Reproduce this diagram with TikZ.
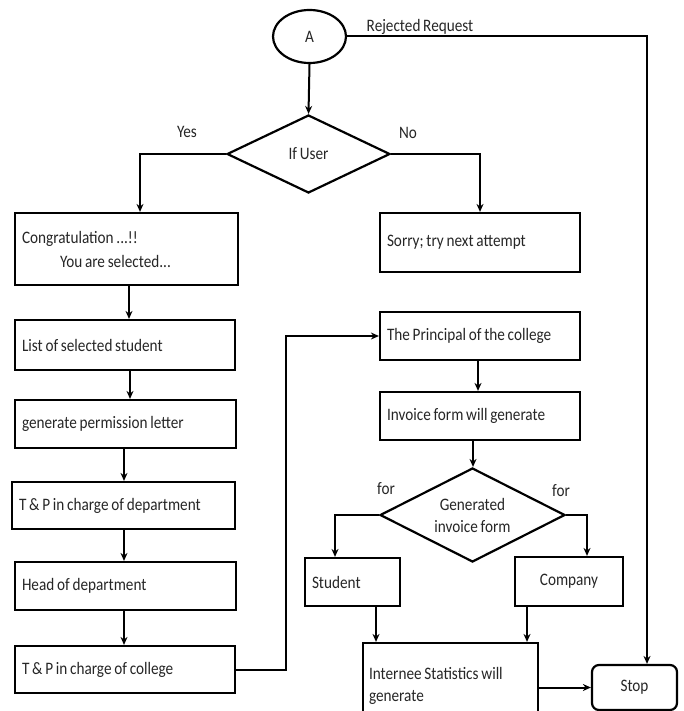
\documentclass[tikz,border=0pt]{standalone}
\usepackage{fontspec}
\setmainfont{Carlito}[FakeStretch=0.87,WordSpace=0.8]
\usetikzlibrary{arrows.meta,shapes.geometric}
\begin{document}
\begin{tikzpicture}[x=1pt,y=-1pt,
  every node/.style={font=\fontsize{17.5}{22}\selectfont, inner sep=0pt, text=black!85},
  box/.style={draw=black, line width=2.2pt, rectangle, align=left, anchor=center,
    execute at begin node={\spaceskip=0pt\xspaceskip=0pt\relax}},
  arr/.style={line width=2pt, -{Stealth[length=8pt,width=7pt]}},
  lbl/.style={anchor=center}
]
\useasboundingbox (0,0) rectangle (683,711);
\fill[white] (0,0) rectangle (683,711);

% start
\node[draw=black, line width=2.2pt, ellipse, minimum width=73pt, minimum height=53pt] (A) at (309.5,36.5) {A};
% decision 1
\node[draw=black, line width=2.2pt, diamond, minimum width=163pt, minimum height=78pt, aspect=2.09] (d1) at (308.5,154) {If User};

% boxes
\node[box, minimum width=223pt, minimum height=72pt, text width=209pt] (congr) at (126.5,249) {Congratulation ...!!\\[2pt]\hspace*{38pt}You are selected...};
\node[box, minimum width=200pt, minimum height=59pt, text width=186pt] (sorry) at (480,242.5) {Sorry; try next attempt};
\node[box, minimum width=220pt, minimum height=50pt, text width=206pt] (list) at (125,345) {List of selected student};
\node[box, minimum width=221pt, minimum height=48pt, text width=207pt] (perm) at (125.5,424) {generate permission letter};
\node[box, minimum width=223pt, minimum height=47pt, text width=209pt] (tpd) at (123.5,505.5) {T \& P in charge of department};
\node[box, minimum width=221pt, minimum height=48pt, text width=207pt] (hod) at (125.5,586) {Head of department};
\node[box, minimum width=220pt, minimum height=47pt, text width=206pt] (tpc) at (125,669.5) {T \& P in charge of college};
\node[box, minimum width=200pt, minimum height=48pt, text width=186pt] (princ) at (480,336) {The Principal of the college};
\node[box, minimum width=200pt, minimum height=48pt, text width=186pt] (inv) at (480,416) {Invoice form will generate};
\node[draw=black, line width=2.2pt, diamond, minimum width=185pt, minimum height=94pt, aspect=1.97, align=center] (d2) at (472.5,515) {Generated\\invoice form};
\node[box, minimum width=95pt, minimum height=48pt, text width=81pt] (student) at (352.5,582) {Student};
\node[box, minimum width=108pt, minimum height=49pt, align=center] (company) at (569,581.5) {Company};
\node[box, minimum width=175pt, minimum height=86pt, text width=163pt] (intern) at (450.5,686) {Internee Statistics will\\generate};
\node[draw=black, line width=2.2pt, rounded corners=7pt, minimum width=85pt, minimum height=45pt] (stop) at (634.5,687.5) {Stop};

% labels
\node[lbl] (lrej) at (420,27) {Rejected Request};
\node[lbl] (lyes) at (187,132) {Yes};
\node[lbl] (lno) at (408,133) {No};
\node[lbl] (lfor1) at (386,489) {for};
\node[lbl] (lfor2) at (561,491) {for};

% connectors
\draw[arr] (A.south) -- (d1.north);
\draw[arr] (A.east) -| ([xshift=12.5pt]stop.north);
\draw[arr] (d1.west) -| ([xshift=13.5pt]congr.north);
\draw[arr] (d1.east) -| (sorry.north);
\draw[arr] ([xshift=2.5pt]congr.south) -- ([xshift=2.5pt]congr.south |- list.north);
\draw[arr] ([xshift=5pt]list.south) -- ([xshift=5pt]list.south |- perm.north);
\draw[arr] ([xshift=-1.5pt]perm.south) -- ([xshift=-1.5pt]perm.south |- tpd.north);
\draw[arr] ([xshift=0.5pt]tpd.south) -- ([xshift=0.5pt]tpd.south |- hod.north);
\draw[arr] ([xshift=-1.5pt]hod.south) -- ([xshift=-1.5pt]hod.south |- tpc.north);
\draw[arr] (tpc.east) -- ++(50pt,0) |- (princ.west);
\draw[arr] ([xshift=-2pt]princ.south) -- ([xshift=-2pt]princ.south |- inv.north);
\draw[arr] ([xshift=-7pt]inv.south) -- ([xshift=-7pt]inv.south |- d2.north);
\draw[arr] (d2.west) -| ([xshift=-17.5pt]student.north);
\draw[arr] (d2.east) -| ([xshift=18pt]company.north);
\draw[arr] ([xshift=23.5pt]student.south) -- ([xshift=23.5pt]student.south |- intern.north);
\draw[arr] ([xshift=-42pt]company.south) -- ([xshift=-42pt]company.south |- intern.north);
\draw[arr] (stop.west -| intern.east) -- (stop.west);
\end{tikzpicture}
\end{document}
